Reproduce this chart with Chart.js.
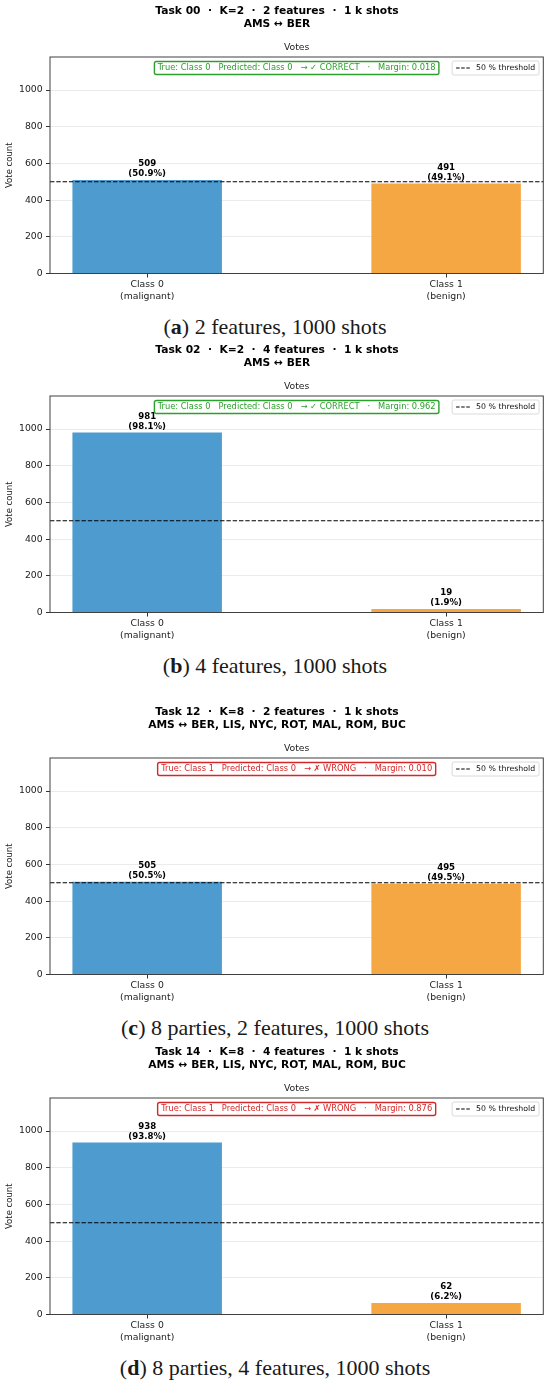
<!DOCTYPE html>
<html>
<head>
<meta charset="utf-8">
<script src="https://cdn.jsdelivr.net/npm/chart.js@4.4.1/dist/chart.umd.min.js"></script>
<style>
html, body { margin: 0; padding: 0; background: #fff; }
body { width: 550px; height: 1385px; position: relative; overflow: hidden; }
.panel { position: absolute; left: 0; width: 550px; }
.panel canvas { display: block; }
.caption { position: absolute; left: 0; width: 550px; text-align: center; font-family: "Liberation Serif", serif; font-size: 22px; line-height: 26px; color: #1a1a1a; }
</style>
</head>
<body>
<script>
// panel texts
const taskTitles = [
    'Task 00  \u00b7  K=2  \u00b7  2 features  \u00b7  1 k shots',
    'Task 02  \u00b7  K=2  \u00b7  4 features  \u00b7  1 k shots',
    'Task 12  \u00b7  K=8  \u00b7  2 features  \u00b7  1 k shots',
    'Task 14  \u00b7  K=8  \u00b7  4 features  \u00b7  1 k shots'
];
const routeLines = [
    'AMS \u2194 BER',
    'AMS \u2194 BER',
    'AMS \u2194 BER, LIS, NYC, ROT, MAL, ROM, BUC',
    'AMS \u2194 BER, LIS, NYC, ROT, MAL, ROM, BUC'
];
const captionLetters = ['a', 'b', 'c', 'd'];
const captionTexts = [
    '2 features, 1000 shots',
    '4 features, 1000 shots',
    '8 parties, 2 features, 1000 shots',
    '8 parties, 4 features, 1000 shots'
];

// votes per class
const class0Votes = [509, 981, 505, 938];
const class1Votes = [491, 19, 495, 62];
const trueClass = [0, 0, 1, 1];
const predictedClass = [0, 0, 0, 0];
const margins = ['0.018', '0.962', '0.010', '0.876'];

const classLabels = [['Class 0', '(malignant)'], ['Class 1', '(benign)']];
const yTicks = [0, 200, 400, 600, 800, 1000];
const yMax = 1180;
const threshold = 500;
const totalShots = 1000;
const barColors = ['#4d9bcf', '#f4a742'];

const panelTops = [0, 338.7, 701.3, 1041.3];

Chart.defaults.font.family = '"DejaVu Sans", sans-serif';

const panelDecor = {
    id: 'panelDecor',
    afterDatasetsDraw(chart) {
        const ctx = chart.ctx;
        const area = chart.chartArea;
        const y = chart.scales.y;
        ctx.save();
        // 50 % line
        const ty = y.getPixelForValue(threshold);
        ctx.strokeStyle = '#000';
        ctx.lineWidth = 1.2;
        ctx.setLineDash([4.4, 1.9]);
        ctx.beginPath();
        ctx.moveTo(area.left, ty);
        ctx.lineTo(area.right, ty);
        ctx.stroke();
        ctx.setLineDash([]);
        // counts above the bars
        ctx.font = 'bold 8.6px "DejaVu Sans"';
        ctx.fillStyle = '#000';
        ctx.textAlign = 'center';
        ctx.textBaseline = 'middle';
        const values = chart.data.datasets[0].data;
        chart.getDatasetMeta(0).data.forEach(function (bar, i) {
            const v = values[i].y;
            const pct = (v / totalShots * 100).toFixed(1);
            ctx.fillText(String(v), bar.x, bar.y - 16);
            ctx.fillText('(' + pct + '%)', bar.x, bar.y - 6);
        });
        ctx.restore();
    },
    afterDraw(chart, args, opts) {
        const ctx = chart.ctx;
        const area = chart.chartArea;
        ctx.save();
        // axes frame
        ctx.strokeStyle = '#404040';
        ctx.lineWidth = 1;
        ctx.strokeRect(area.left, area.top, area.right - area.left, area.bottom - area.top);

        // suptitle
        ctx.fillStyle = '#000';
        ctx.textAlign = 'center';
        ctx.textBaseline = 'middle';
        ctx.font = 'bold 10.7px "DejaVu Sans"';
        ctx.fillText(opts.title, 277, area.top - 46);
        ctx.fillText(opts.route, 277, area.top - 33);
        // axes title
        ctx.font = '9.3px "DejaVu Sans"';
        ctx.fillStyle = '#222';
        ctx.fillText('Votes', (area.left + area.right) / 2, area.top - 9);

        // verdict box
        const ok = opts.trueCls === opts.predCls;
        const col = ok ? '#2ca02c' : '#d62728';
        const verdict = 'True: Class ' + opts.trueCls + '   Predicted: Class ' + opts.predCls +
            '   \u2192 ' + (ok ? '\u2713 CORRECT' : '\u2717 WRONG') + '   \u00b7   Margin: ' + opts.margin;
        ctx.font = '8.3px "DejaVu Sans"';
        const tw = ctx.measureText(verdict).width;
        const bw = ok ? 284.5 : Math.max(tw + 7, 278);
        const bx = (area.left + area.right) / 2 - bw / 2;
        const by = area.top + 4.5;
        ctx.fillStyle = '#fff';
        ctx.strokeStyle = col;
        ctx.lineWidth = 1.4;
        ctx.beginPath();
        ctx.roundRect(bx, by, bw, 13, 2);
        ctx.fill();
        ctx.stroke();
        ctx.fillStyle = col;
        ctx.fillText(verdict, bx + bw / 2, by + 6.7);

        // legend
        ctx.font = '7.8px "DejaVu Sans"';
        const label = '50 % threshold';
        const lw = ctx.measureText(label).width;
        const legW = lw + 28;
        const lx = area.right - 4.2 - legW;
        const ly = area.top + 4;
        ctx.fillStyle = 'rgba(255,255,255,0.9)';
        ctx.strokeStyle = '#d0d0d0';
        ctx.lineWidth = 0.8;
        ctx.beginPath();
        ctx.roundRect(lx, ly, legW, 14, 2);
        ctx.fill();
        ctx.stroke();
        ctx.strokeStyle = '#000';
        ctx.lineWidth = 1.2;
        ctx.setLineDash([3.5, 1.6]);
        ctx.beginPath();
        ctx.moveTo(lx + 4, ly + 7);
        ctx.lineTo(lx + 19, ly + 7);
        ctx.stroke();
        ctx.setLineDash([]);
        ctx.fillStyle = '#111';
        ctx.textAlign = 'left';
        ctx.fillText(label, lx + 24, ly + 7.3);
        ctx.restore();
    }
};

taskTitles.forEach(function (title, i) {
    const panel = document.createElement('div');
    panel.className = 'panel';
    panel.style.top = panelTops[i] + 'px';
    const canvas = document.createElement('canvas');
    canvas.width = 550;
    canvas.height = 304;
    panel.appendChild(canvas);
    document.body.appendChild(panel);

    const cap = document.createElement('div');
    cap.className = 'caption';
    cap.style.top = (panelTops[i] + 314) + 'px';
    const b = document.createElement('b');
    b.textContent = captionLetters[i];
    cap.appendChild(document.createTextNode('('));
    cap.appendChild(b);
    cap.appendChild(document.createTextNode(') ' + captionTexts[i]));
    document.body.appendChild(cap);

    new Chart(canvas.getContext('2d'), {
        type: 'bar',
        data: {
            datasets: [{
                data: [
                    {x: 0, y: class0Votes[i]},
                    {x: 1, y: class1Votes[i]}
                ],
                backgroundColor: barColors,
                borderWidth: 0,
                categoryPercentage: 1.0,
                barPercentage: 0.5
            }]
        },
        options: {
            responsive: false,
            animation: false,
            layout: {padding: {left: 0, right: 6.7, top: 57, bottom: 0}},
            plugins: {
                legend: {display: false},
                tooltip: {enabled: false},
                title: {display: false},
                panelDecor: {
                    title: title,
                    route: routeLines[i],
                    trueCls: trueClass[i],
                    predCls: predictedClass[i],
                    margin: margins[i]
                }
            },
            scales: {
                x: {
                    type: 'linear',
                    min: -0.325,
                    max: 1.325,
                    offset: false,
                    afterBuildTicks: function (scale) {
                        scale.ticks = classLabels.map(function (_, k) { return {value: k}; });
                    },
                    afterFit: function (scale) { scale.height = 30.5; },
                    grid: {offset: false, drawOnChartArea: false, tickLength: 4, color: '#333', tickColor: '#333'},
                    border: {display: false},
                    ticks: {
                        autoSkip: false,
                        maxRotation: 0,
                        padding: 2,
                        color: '#222',
                        font: {size: 9.3},
                        callback: function (v) { return classLabels[v]; }
                    }
                },
                y: {
                    min: 0,
                    max: yMax,
                    afterBuildTicks: function (scale) {
                        scale.ticks = yTicks.map(function (v) { return {value: v}; });
                    },
                    afterFit: function (scale) { scale.width = 50; },
                    grid: {color: '#ebebeb', tickColor: '#333', tickLength: 4},
                    border: {display: false},
                    ticks: {
                        padding: 3.3,
                        color: '#222',
                        font: {size: 9.3},
                        callback: function (v) { return String(v); }
                    },
                    title: {
                        display: true,
                        text: 'Vote count',
                        color: '#222',
                        font: {size: 8.5},
                        padding: {top: 4.5, bottom: 0}
                    }
                }
            }
        },
        plugins: [panelDecor]
    });
});
</script>
</body>
</html>
